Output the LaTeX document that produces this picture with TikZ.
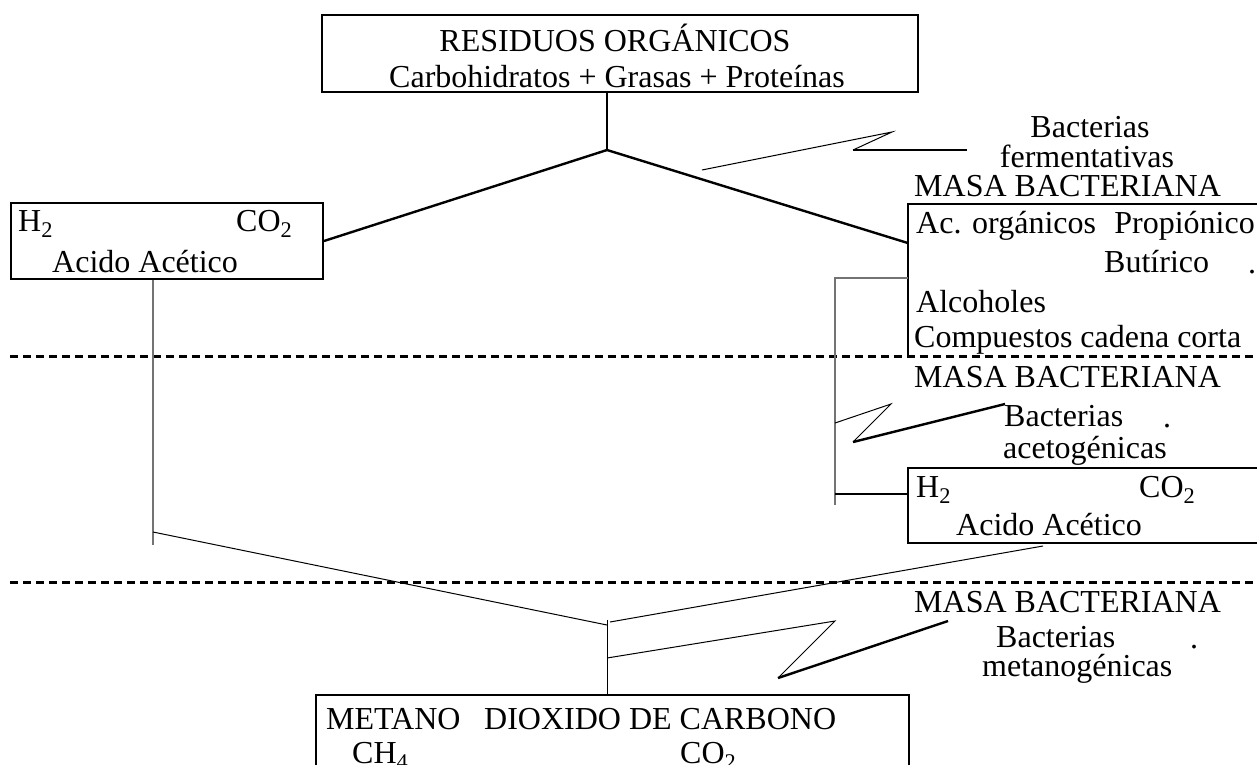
\documentclass[tikz,border=0pt]{standalone}
\usepackage{fontspec}
\setmainfont{Liberation Serif}
\usepackage{xcolor}
\usepackage{tikz}

\begin{document}
\begin{tikzpicture}[x=1pt,y=-1pt]
            \tikzset{Box/.style={%
                    shape=rectangle,%
                    draw=black,%
                    line width=2pt,%
                    inner sep=0pt,%
                },
                Text/.style={%
                    inner sep=0pt,%
                    anchor=west,%
                    font=\fontsize{32}{38}\selectfont,%
                },
                Thick/.style={line width=2.4pt},
                Mid/.style={line width=1.8pt},
                Thin/.style={line width=1pt},
                Grey/.style={draw=black!55,line width=1.5pt},
                Divider/.style={dashed,line width=3pt,dash pattern=on 8pt off 5pt},
            }

                \useasboundingbox (0,0) rectangle (1257,764);
                \clip (0,0) rectangle (1257,764);

                \node[Box,minimum width=596pt,minimum height=77pt] (organicos) at (620,53.5) {};
                \node[Box,minimum width=312pt,minimum height=76pt] (acetico1) at (167,241) {};
                \node[minimum width=349pt,minimum height=78pt,inner sep=0pt] (acidos) at (1082.5,243) {};
                \node[Box,minimum width=354pt,minimum height=75pt] (acetico2) at (1085,505.5) {};
                \node[Box,minimum width=593pt,minimum height=105pt] (biogas) at (612.5,747.5) {};

                \node[Text,anchor=center] (res) at (615,38) {RESIDUOS ORGÁNICOS};
                \node[Text,anchor=center] (cgp) at (617,77) {Carbohidratos + Grasas + Proteínas};
                \node[Text,anchor=center] (bf1) at (1090,127) {Bacterias};
                \node[Text,anchor=center] (bf2) at (1087,156) {fermentativas};
                \node[Text] (masa1) at (914,186) {MASA BACTERIANA};

                \node[Text] (h1) at (18,224) {H\textsubscript{2}};
                \node[Text] (co1) at (236,224) {CO\textsubscript{2}};
                \node[Text] (ac1) at (52,262) {Acido Acético};

                \node[Text] (aco) at (916,226) {Ac. orgánicos};
                \node[Text,anchor=east] (pro) at (1255,226) {Propiónico};
                \node[Text] (but) at (1104,262) {Butírico};
                \node[Text,anchor=base west] (dot1) at (1248,273) {.};
                \node[Text] (alc) at (916,302) {Alcoholes};
                \node[Text] (ccc) at (914,340) {Compuestos cadena corta};

                \node[Text] (masa2) at (914,377) {MASA BACTERIANA};
                \node[Text] (ba1) at (1004,416) {Bacterias};
                \node[Text,anchor=base west] (dot2) at (1163,427) {.};
                \node[Text] (ba2) at (1003,451) {acetogénicas};

                \node[Text] (h2) at (916,490) {H\textsubscript{2}};
                \node[Text] (co2) at (1139,490) {CO\textsubscript{2}};
                \node[Text] (ac2) at (956,525) {Acido Acético};

                \node[Text] (masa3) at (914,602) {MASA BACTERIANA};
                \node[Text] (bm1) at (996,637) {Bacterias};
                \node[Text,anchor=base west] (dot3) at (1190,648) {.};
                \node[Text] (bm2) at (982,669) {metanogénicas};

                \node[Text] (met) at (326,719) {METANO};
                \node[Text] (dio) at (484,719) {DIOXIDO DE CARBONO};
                \node[Text] (ch4) at (352,756) {CH\textsubscript{4}};
                \node[Text] (co3) at (680,756) {CO\textsubscript{2}};

                \coordinate (sepA1) at (10,356);
                \coordinate (sepA2) at (1257,356);
                \coordinate (sepB1) at (10,582);
                \coordinate (sepB2) at (1257,582);
                \draw[Divider] (sepA1) -- (sepA2);
                \draw[Divider] (sepB1) -- (sepB2);

                \draw[line width=2pt] (acidos.north east) -- (acidos.north west) -- (acidos.west |- sepA1);

                \coordinate (split) at (607,150);
                \path (organicos.south -| split) edge[Thick] (split);
                \path (split) edge[Thick] (acetico1.east);
                \path (split) edge[Thick] (acidos.west);

                \coordinate (f1) at (702,170);
                \coordinate (f2) at (892,132);
                \coordinate (f3) at (853,150);
                \coordinate (f4) at (967,150);
                \draw[Thin] (f1) -- (f2) -- (f3);
                \draw[Thick] (f3) -- (f4);

                \coordinate (ldrop) at (153,545);
                \coordinate (lknee) at (153,532);
                \coordinate (join) at (607,625);
                \coordinate (jtop) at (607,620);
                \draw[Grey] (acetico1.south -| ldrop) -- (ldrop);
                \path (lknee) edge[Thin] (join);
                \path (jtop) edge[Thin] (biogas.north -| jtop);

                \coordinate (rjoin) at (610,622);
                \coordinate (hbot) at (1043,546);
                \path (rjoin) edge[Thin] (hbot);

                \coordinate (m1) at (607,658);
                \coordinate (m2) at (835,621);
                \coordinate (m3) at (778,678);
                \coordinate (m4) at (948,621);
                \draw[Thin] (m1) -- (m2) -- (m3);
                \draw[Thick] (m3) -- (m4);

                \coordinate (rtop) at (835,278);
                \coordinate (rbot) at (835,505);
                \coordinate (rh) at (835,494);
                \draw[Grey] (rtop -| acidos.west) -- (rtop) -- (rbot);
                \path (rh) edge[Mid] (rh -| acetico2.west);

                \coordinate (a1) at (835,423);
                \coordinate (a2) at (891,404);
                \coordinate (a3) at (853,442);
                \coordinate (a4) at (1005,404);
                \draw[Thin] (a1) -- (a2) -- (a3);
                \draw[Thick] (a3) -- (a4);
        \end{tikzpicture}
\end{document}
